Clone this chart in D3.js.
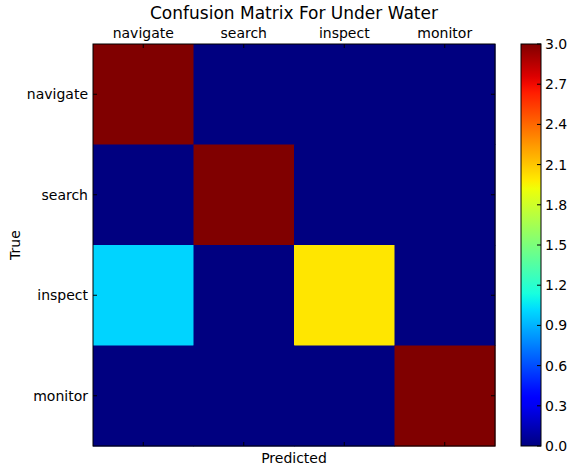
<!DOCTYPE html>
<html>
<head>
<meta charset="utf-8">
<script src="https://cdn.jsdelivr.net/npm/d3@7"></script>
<style>
  body { margin: 0; background: #fff; }
  svg text { font-family: "DejaVu Sans", sans-serif; fill: #000; }
</style>
</head>
<body>
<div id="chart"></div>
<script>
// Confusion matrix data
const classes = ['navigate', 'search', 'inspect', 'monitor'];
const matrix = [
  [3, 0, 0, 0],
  [0, 3, 0, 0],
  [1, 0, 2, 0],
  [0, 0, 0, 3]
];
const cbTicks = [0.0, 0.3, 0.6, 0.9, 1.2, 1.5, 1.8, 2.1, 2.4, 2.7, 3.0];

// matplotlib jet
function jet(t) {
  t = Math.max(0, Math.min(1, t));
  const seg = (pts) => {
    for (let i = 1; i < pts.length; i++) {
      if (t <= pts[i][0]) {
        const [x0, y0] = pts[i - 1], [x1, y1] = pts[i];
        return y0 + (y1 - y0) * (t - x0) / (x1 - x0);
      }
    }
    return pts[pts.length - 1][1];
  };
  const r = seg([[0, 0], [0.35, 0], [0.66, 1], [0.89, 1], [1, 0.5]]);
  const g = seg([[0, 0], [0.125, 0], [0.375, 1], [0.64, 1], [0.91, 0], [1, 0]]);
  const b = seg([[0, 0.5], [0.11, 1], [0.34, 1], [0.65, 0], [1, 0]]);
  return d3.rgb(r * 255, g * 255, b * 255).toString();
}

const W = 569, H = 467;
const svg = d3.select('#chart').append('svg').attr('width', W).attr('height', H);

const mLeft = 93, mTop = 44, size = 402;
const x = d3.scaleBand().domain(classes).range([mLeft, mLeft + size]);
const y = d3.scaleBand().domain(classes).range([mTop, mTop + size]);
const color = v => jet(v / 3);

// cells
const cells = [];
matrix.forEach((row, i) => row.forEach((v, j) => cells.push({ r: classes[i], c: classes[j], v })));
svg.append('g').selectAll('rect').data(cells).join('rect')
  .attr('x', d => x(d.c)).attr('y', d => y(d.r))
  .attr('width', x.bandwidth() + 0.5).attr('height', y.bandwidth() + 0.5)
  .attr('fill', d => color(d.v));

// frame
svg.append('rect').attr('x', mLeft).attr('y', mTop).attr('width', size).attr('height', size)
  .attr('fill', 'none').attr('stroke', '#000').attr('stroke-width', 1);

// ticks (inward, classic style)
const tk = svg.append('g').attr('stroke', '#000').attr('stroke-width', 1);
classes.forEach(c => {
  const cx = x(c) + x.bandwidth() / 2, cyy = y(c) + y.bandwidth() / 2;
  tk.append('line').attr('x1', cx).attr('x2', cx).attr('y1', mTop).attr('y2', mTop + 4);
  tk.append('line').attr('x1', cx).attr('x2', cx).attr('y1', mTop + size).attr('y2', mTop + size - 4);
  tk.append('line').attr('x1', mLeft).attr('x2', mLeft + 4).attr('y1', cyy).attr('y2', cyy);
  tk.append('line').attr('x1', mLeft + size).attr('x2', mLeft + size - 4).attr('y1', cyy).attr('y2', cyy);
});

// tick labels
svg.append('g').selectAll('text').data(classes).join('text')
  .attr('x', d => x(d) + x.bandwidth() / 2).attr('y', mTop - 6)
  .attr('text-anchor', 'middle').attr('font-size', '14px').text(d => d);
svg.append('g').selectAll('text').data(classes).join('text')
  .attr('x', mLeft - 5).attr('y', d => y(d) + y.bandwidth() / 2)
  .attr('dy', '0.35em').attr('text-anchor', 'end').attr('font-size', '14px').text(d => d);

// titles
svg.append('text').attr('x', mLeft + size / 2).attr('y', 19)
  .attr('text-anchor', 'middle').attr('font-size', '17px').text('Confusion Matrix For Under Water');
svg.append('text').attr('x', mLeft + size / 2).attr('y', 463)
  .attr('text-anchor', 'middle').attr('font-size', '14px').text('Predicted');
svg.append('text').attr('transform', `translate(20,${mTop + size / 2}) rotate(-90)`)
  .attr('text-anchor', 'middle').attr('font-size', '14px').text('True');

// colorbar
const cbX = 521, cbW = 20;
const cbY = d3.scaleLinear().domain([0, 3]).range([mTop + size, mTop]);
const defs = svg.append('defs');
const grad = defs.append('linearGradient').attr('id', 'jet')
  .attr('x1', 0).attr('y1', 1).attr('x2', 0).attr('y2', 0);
d3.range(0, 1.0001, 0.02).forEach(t => {
  grad.append('stop').attr('offset', t).attr('stop-color', jet(t));
});
svg.append('rect').attr('x', cbX).attr('y', mTop).attr('width', cbW).attr('height', size)
  .attr('fill', 'url(#jet)').attr('stroke', '#000').attr('stroke-width', 1);

const cbAxis = svg.append('g');
cbTicks.forEach(v => {
  cbAxis.append('line').attr('x1', cbX + cbW - 4).attr('x2', cbX + cbW)
    .attr('y1', cbY(v)).attr('y2', cbY(v)).attr('stroke', '#000');
  cbAxis.append('text').attr('x', cbX + cbW + 4).attr('y', cbY(v)).attr('dy', '0.35em')
    .attr('font-size', '14px').text(v.toFixed(1));
});
</script>
</body>
</html>
